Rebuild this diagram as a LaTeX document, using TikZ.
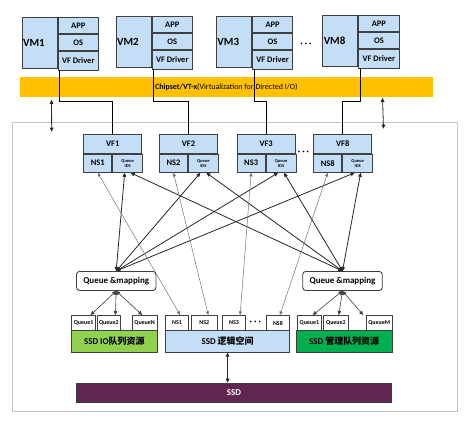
\documentclass[tikz,border=0pt]{standalone}
\usepackage{fontspec}
\setmainfont{Carlito}
\newfontfamily\cjk{Noto Sans CJK SC}
\usetikzlibrary{arrows.meta,calc}
\definecolor{vmblue}{RGB}{197,222,247}
\definecolor{boxline}{RGB}{64,64,64}
\definecolor{chiporange}{RGB}{255,192,0}
\definecolor{iogreen}{RGB}{146,208,80}
\definecolor{mgmtgreen}{RGB}{0,176,80}
\definecolor{ssdpurple}{RGB}{97,37,81}
\definecolor{framegray}{RGB}{195,195,195}
\tikzset{
  box/.style={draw=boxline, line width=0.9bp, inner sep=0pt, anchor=north west},
  vmname/.style={box, fill=vmblue, text width=33bp, inner xsep=1bp, align=left,
    minimum height=50.7bp, font=\bfseries\fontsize{11}{12}\selectfont},
  cell/.style={box, fill=vmblue, minimum width=40.5bp, font=\bfseries\fontsize{8.5}{9}\selectfont},
  vfhead/.style={box, fill=vmblue, minimum width=58bp, minimum height=18.7bp,
    font=\bfseries\fontsize{8.5}{9}\selectfont},
  vfns/.style={box, fill=vmblue, minimum width=28bp, minimum height=18.3bp,
    font=\bfseries\fontsize{8.5}{9}\selectfont},
  vfqid/.style={box, fill=vmblue, minimum width=30bp, minimum height=18.3bp, align=center,
    font=\bfseries\fontsize{4.5}{5}\selectfont},
  qmap/.style={box, fill=white, rounded corners=3bp, minimum width=79.5bp, minimum height=19bp,
    font=\bfseries\fontsize{9}{10}\selectfont},
  slot/.style={box, fill=white, minimum height=15bp, font=\bfseries\fontsize{6}{7}\selectfont},
  pool/.style={box, minimum height=21.7bp, font=\bfseries\fontsize{9}{10}\selectfont},
  dotsrow/.style={inner sep=0pt, font=\bfseries\fontsize{9}{9}\selectfont},
  wire/.style={draw=black, line width=0.8bp},
  duplex/.style={{Triangle[length=4bp,width=3.6bp]}-{Triangle[length=4bp,width=3.6bp]},
    draw=black!85, line width=0.8bp},
  qlink/.style={{Triangle[length=4bp,width=3.6bp]}-{Triangle[length=4bp,width=3.6bp]},
    draw=black!75, line width=0.6bp},
  nslink/.style={{Triangle[length=3.6bp,width=3.2bp]}-{Triangle[length=3.6bp,width=3.2bp]},
    draw=black!55, line width=0.5bp}
}
\begin{document}
\begin{tikzpicture}[x=1bp, y=-1bp]
\useasboundingbox (0,0) rectangle (468,421);
% host frame
\node[box, draw=framegray, minimum width=445.3bp, minimum height=289bp] (host) at (11.7,121.7) {};
% virtual machines
\foreach \n/\x/\y in {1/21.7/17, 2/115.7/16, 3/216/16, 8/322.3/15} {
  \node[vmname] (vm\n) at (\x,\y) {VM\n};
  \node[cell, minimum height=16.3bp] (app\n) at (vm\n.north east) {APP};
  \node[cell, minimum height=15.7bp] (os\n) at (app\n.south west) {OS};
  \node[cell, minimum height=18.7bp] (drv\n) at (os\n.south west) {VF Driver};
}
\node[dotsrow] (vmdots) at (306,45) {· · ·};
% chipset
\node[fill=chiporange, minimum width=412.7bp, minimum height=19.4bp, inner sep=0pt,
  font=\fontsize{8}{9}\selectfont] (chip) at (226.35,87)
  {\textbf{Chipset/VT-x}(Virtualization for Directed I/O)};
% virtual functions
\foreach \n/\x in {1/83.3, 2/159, 3/236.7, 8/313.3} {
  \node[vfhead] (vf\n) at (\x,134) {VF\n};
  \node[vfns] (vfns\n) at (vf\n.south west) {NS\n};
  \node[vfqid] (vfq\n) at (vfns\n.north east) {Queue\\IDS};
}
\node[dotsrow] (vfdots) at (303.5,153) {· · ·};
% queue mapping
\node[qmap] (qm1) at (76,271) {Queue \&mapping};
\node[qmap] (qm2) at (302.3,271) {Queue \&mapping};
% SSD resources
\node[slot, minimum width=24.3bp] (lq1) at (71,315) {Queue1};
\node[slot, minimum width=23.3bp] (lq2) at (96.7,315) {Queue2};
\node[slot, minimum width=25bp] (lqn) at (131.7,315) {QueueN};
\node[pool, fill=iogreen, minimum width=85.7bp] (ssdio) at (71,330) {SSD IO{\cjk 队列资源}};
\node[slot, minimum width=23.3bp] (bns1) at (165,315) {NS1};
\node[slot, minimum width=25.7bp] (bns2) at (191,315) {NS2};
\node[slot, minimum width=22.7bp] (bns3) at (222.3,315) {NS3};
\node[slot, minimum width=23.6bp] (bns8) at (265.7,315) {NS8};
\node[dotsrow] (nsdots) at (255.3,322.5) {· · ·};
\node[pool, fill=vmblue, minimum width=124.3bp] (ssdl) at (165,330) {SSD {\cjk 逻辑空间}};
\node[slot, minimum width=23.4bp] (rq1) at (297.3,315) {Queue1};
\node[slot, minimum width=25.6bp] (rq2) at (322.7,315) {Queue2};
\node[slot, minimum width=26bp] (rqm) at (365.7,315) {QueueM};
\node[pool, fill=mgmtgreen, minimum width=96bp] (ssdm) at (295.7,330) {SSD {\cjk 管理队列资源}};
\node[box, fill=ssdpurple, text=white, minimum width=315bp, minimum height=19.6bp,
  font=\bfseries\fontsize{9}{10}\selectfont] (ssd) at (76,382.7) {SSD};
% VF driver to VF
\foreach \n in {1,2,3,8}
  \draw[wire] ([xshift=2bp]drv\n.south west) |- ($(vf\n.north)+(0,-33)$) -- (vf\n.north);
% chipset to host
\draw[duplex] ([shift={(31.7,3)}]chip.south west) -- ([shift={(40,10)}]host.north west);
\draw[duplex] ([shift={(-50.4,1)}]chip.south east) -- ([shift={(-74.4,7)}]host.north east);
% queue mapping to VF queue ids
\foreach \n in {1,2,3,8} {
  \draw[duplex] (qm1.north) -- ([xshift=-3bp]vfq\n.south);
  \draw[duplex] (qm2.north) -- ([xshift=3bp]vfq\n.south);
}
% namespaces
\draw[nslink] (vfns1.south) -- ([xshift=3bp]bns1.north);
\draw[nslink] (vfns2.south) -- ([xshift=4bp]bns2.north);
\draw[nslink] (vfns3.south) -- ([xshift=6bp]bns3.north);
\draw[nslink] (vfns8.south) -- ([xshift=2bp]bns8.north);
% queue mapping to queues
\draw[qlink] (qm1.south) -- ([xshift=7bp]lq1.north);
\draw[qlink] (qm1.south) -- ([xshift=6.6bp]lq2.north);
\draw[qlink] (qm1.south) -- ([xshift=-2.5bp]lqn.north);
\draw[qlink] (qm2.south) -- ([xshift=3.3bp]rq1.north);
\draw[qlink] (qm2.south) -- ([xshift=2.8bp]rq2.north);
\draw[qlink] (qm2.south) -- ([xshift=-16bp]rqm.north);
% logical space to SSD
\draw[duplex] (ssdl.south) -- (ssdl.south |- ssd.north);
\end{tikzpicture}
\end{document}
